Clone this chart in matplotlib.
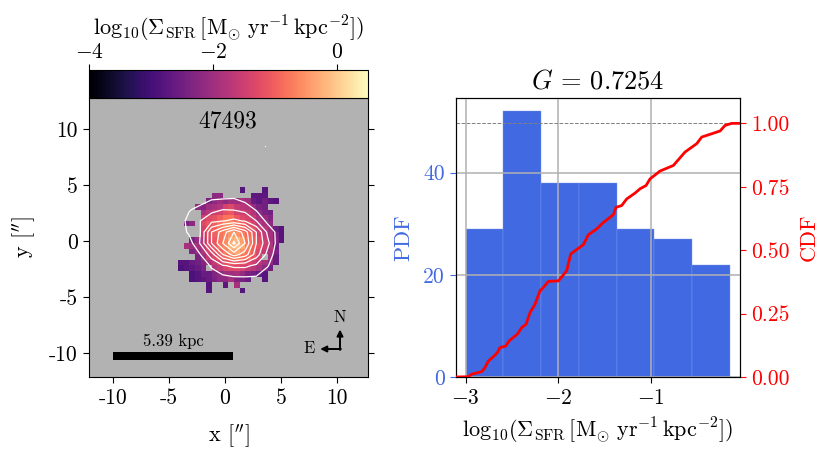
import numpy as np
import matplotlib
matplotlib.use("Agg")
import matplotlib.pyplot as plt

plt.rcParams['font.family'] = ['cmr10', 'DejaVu Sans']
plt.rcParams['mathtext.fontset'] = 'cm'
plt.rcParams['axes.formatter.use_mathtext'] = True
plt.rcParams['axes.unicode_minus'] = False

n = np.nan

# log10(SFR surface density), rows from the top of the map, 0.5 arcsec cells
first_col = 16
first_row = 16
sfr_rows = [
    [n, n, n, n, n, n, n, n, n, n, n, -2.8, n, n, n, -2.8, n, n, n],
    [n, n, n, n, n, n, -2.2, -2.2, n, n, n, n, n, -2.7, -2.7, -2.7, n, n, n],
    [n, n, n, n, n, -2.4, -2.2, -2.0, -2.2, -2.0, -2.0, -1.9, -2.0, -2.6, -2.7, -2.5, -2.7, -2.8, n],
    [n, n, n, -2.2, -2.3, -2.0, -1.9, -1.8, -1.4, -1.3, -1.6, -1.7, -1.8, -2.1, -2.4, -2.5, n, n, n],
    [n, n, n, n, -1.9, -1.7, -1.5, -1.4, -1.2, -1.1, -1.4, -1.5, -1.6, -1.8, -2.2, -2.4, -2.5, n, n],
    [n, n, n, n, -1.5, -1.3, -1.2, -1.0, -0.8, -0.8, -1.1, -1.3, -1.4, -1.6, -1.9, -2.1, -2.3, n, n],
    [n, -2.4, -2.2, n, -1.3, -1.1, -1.0, -0.8, -0.6, -0.6, -0.8, -1.0, -1.2, -1.4, -1.7, -1.9, -2.2, n, n],
    [n, n, n, n, -1.4, -1.1, -1.0, -0.8, -0.7, -0.6, -0.7, -0.9, -1.1, -1.2, -1.5, -1.7, -2.0, -2.6, -2.8],
    [n, n, n, n, -1.6, -1.2, -1.0, -0.8, -0.7, -0.5, -0.5, -0.7, -0.9, -1.1, -1.4, -1.6, -1.9, -2.4, -2.8],
    [n, n, -2.4, -2.1, -1.7, -1.3, -1.1, -0.8, -0.6, -0.3, -0.2, -0.4, -0.8, -1.0, -1.3, -1.5, -1.9, -2.3, -2.8],
    [n, -1.9, -2.0, -1.9, -1.7, -1.3, -1.1, -0.8, -0.6, -0.2, -0.1, -0.3, -0.7, -1.0, -1.2, -1.5, -1.8, -2.5, n],
    [n, n, -2.3, -2.1, -1.8, -1.4, -1.2, -1.0, -0.7, -0.4, -0.3, -0.5, -0.8, -1.0, -1.3, -1.6, -1.9, -2.4, n],
    [n, n, n, -2.4, -2.0, -1.6, -1.3, -1.1, -0.9, -0.8, -0.7, -0.8, -0.9, -1.1, -1.4, n, -2.0, -2.6, n],
    [-2.8, -2.8, -2.6, -2.5, -2.3, -1.9, -1.6, -1.4, -1.2, -1.1, -1.1, -1.2, -1.3, -1.5, -1.7, -1.9, -2.2, -2.6, n],
    [-2.9, -2.8, -2.7, -2.6, -2.4, n, -1.8, -1.6, -1.4, -1.3, -1.3, -1.4, -1.6, -1.7, -1.9, -2.2, -2.5, n, n],
    [n, n, -2.9, -2.8, -2.6, -2.6, -2.3, -2.2, -2.0, -2.0, -1.9, -2.1, -2.4, -2.5, -2.6, -2.8, n, n, n],
    [n, n, -2.9, -2.8, -2.7, -2.6, -2.4, -2.2, -2.2, -1.9, -2.3, -2.4, -2.6, n, n, -2.8, n, n, n],
    [n, n, n, n, n, -2.8, n, n, -2.7, n, -1.9, n, n, n, n, n, n, n, n],
    [n, n, n, n, n, -2.8, n, n, n, n, n, -2.8, n, n, n, n, n, n, n],
]

# coarse 1 arcsec map behind the white contours
contour_x = [-4.2, -3.2, -2.2, -1.2, -0.2, 0.8, 1.8, 2.8, 3.8, 4.7, 5.7]
contour_y = [4.8, 3.8, 2.8, 1.8, 0.8, -0.2, -1.2, -2.2, -3.2, -4.1]
contour_map = [
    [0.0, 0.0, 0.0, 0.0, 0.0, 0.0, 0.0, 0.0, 0.0, 0.0, 0.0],
    [0.0, 0.0, 0.4, 0.9, 0.95, 1.0, 0.6, 0.0, 0.0, 0.0, 0.0],
    [0.1, 0.9, 1.4, 1.7, 2.0, 1.95, 1.7, 0.9, 0.3, 0.0, 0.0],
    [0.3, 1.4, 2.0, 2.7, 2.95, 3.2, 2.9, 2.0, 0.7, 0.2, 0.0],
    [0.3, 1.2, 2.0, 5.0, 6.5, 8.0, 6.5, 4.0, 1.8, 0.7, 0.0],
    [0.0, 0.5, 2.1, 5.0, 7.0, 9.0, 7.0, 4.0, 2.3, 0.6, 0.0],
    [0.0, 0.0, 1.0, 2.5, 5.0, 6.5, 5.5, 3.5, 1.7, 0.4, 0.0],
    [0.0, 0.0, 0.0, 1.2, 1.9, 2.2, 2.2, 1.8, 1.1, 0.1, 0.0],
    [0.0, 0.0, 0.0, 0.3, 0.8, 0.98, 1.0, 0.95, 0.3, 0.0, 0.0],
    [0.0, 0.0, 0.0, 0.0, 0.0, 0.0, 0.0, 0.0, 0.0, 0.0, 0.0],
]
contour_levels = [1, 2, 3, 4, 5, 6, 7, 8, 8.8]

# histogram of the map pixels
bin_edges = [-3.0, -2.593, -2.186, -1.779, -1.372, -0.965, -0.558, -0.151]
pdf_counts = [29, 52, 38, 38, 29, 27, 22]

# cumulative curve
cdf_x = [-3.108, -2.972, -2.936, -2.828, -2.792, -2.756, -2.702, -2.659, -2.630, -2.569,
         -2.533, -2.443, -2.396, -2.349, -2.306, -2.252, -2.198, -2.155, -2.108, -2.000,
         -1.910, -1.867, -1.730, -1.676, -1.586, -1.525, -1.407, -1.378, -1.317, -1.263,
         -1.173, -1.119, -1.054, -1.011, -0.903, -0.759, -0.633, -0.507, -0.453, -0.255,
         -0.201, -0.129, -0.047]
cdf_y = [0.0, 0.001, 0.011, 0.021, 0.037, 0.063, 0.080, 0.096, 0.116, 0.122,
         0.142, 0.169, 0.195, 0.208, 0.254, 0.287, 0.340, 0.356, 0.377, 0.379,
         0.419, 0.485, 0.522, 0.561, 0.584, 0.606, 0.640, 0.669, 0.676, 0.702,
         0.725, 0.742, 0.755, 0.781, 0.812, 0.834, 0.887, 0.920, 0.946, 0.970,
         0.992, 1.0, 1.0]

sfr_label = r'$\log_{10}\!(\Sigma_{\rm SFR}\,[{\rm M}_{\!\odot}\,{\rm yr}^{-1}\,{\rm kpc}^{-2}])$'

fig = plt.figure(figsize=(8.31, 4.59), dpi=100)
W, H = 831.0, 459.0

ax1 = fig.add_axes([89 / W, (H - 377) / H, 279 / W, 279 / H])
cax = fig.add_axes([89 / W, (H - 98) / H, 279 / W, 28 / H])
ax2 = fig.add_axes([456 / W, (H - 377) / H, 284 / W, 279 / H])

############ MAP ############
sfr_map = np.full((50, 50), np.nan)
block = np.array(sfr_rows)
sfr_map[first_row:first_row + block.shape[0], first_col:first_col + block.shape[1]] = block

cmap = plt.get_cmap('magma').copy()
cmap.set_bad('#b2b2b2')
extent = [-12.14, 12.77, -12.14, 12.77]
ax1.set_facecolor('#b2b2b2')
im = ax1.imshow(sfr_map, cmap=cmap, vmin=-4, vmax=0.5, origin='upper', extent=extent,
                interpolation='nearest', aspect='auto')

ax1.contour(contour_x, contour_y, np.array(contour_map), levels=contour_levels, colors='white',
            linewidths=0.9, linestyles='solid')

ax1.set_xlim(extent[0], extent[1])
ax1.set_ylim(extent[2], extent[3])
ax1.set_xticks([-10, -5, 0, 5, 10])
ax1.set_xticklabels(['-10', '-5', '0', '5', '10'])
ax1.set_yticks([-10, -5, 0, 5, 10])
ax1.set_yticklabels(['-10', '-5', '0', '5', '10'])
ax1.tick_params(axis='both', labelsize=15.5, right=True, direction='out', length=4.5)
ax1.set_xlabel('x [$^{\\prime\\prime}$]', fontsize=16, labelpad=11)
ax1.set_ylabel('y [$^{\\prime\\prime}$]', fontsize=16, labelpad=8)

ax1.text(0.25, 10.7, '47493', fontsize=17, ha='center', va='center')
ax1.plot([3.6], [8.5], marker='s', ms=0.7, color='white', mew=0)

# scale bar
ax1.fill_between([-10, 0.7], -10.63, -9.92, color='black', lw=0)
ax1.text(-4.65, -8.95, '5.39 kpc', fontsize=12, ha='center', va='center')

# compass
ax1.annotate('', xy=(10.27, -7.9), xytext=(10.27, -9.72),
             arrowprops=dict(arrowstyle='-|>', color='black', lw=1.4, shrinkA=0, shrinkB=0, mutation_scale=9))
ax1.annotate('', xy=(8.5, -9.64), xytext=(10.35, -9.64),
             arrowprops=dict(arrowstyle='-|>', color='black', lw=1.4, shrinkA=0, shrinkB=0, mutation_scale=9))
ax1.text(10.27, -6.85, 'N', fontsize=12, ha='center', va='center')
ax1.text(7.5, -9.6, 'E', fontsize=12, ha='center', va='center')

############ COLORBAR ############
cb = fig.colorbar(im, cax=cax, orientation='horizontal', ticklocation='top')
cb.set_ticks([-4, -2, 0])
cb.set_ticklabels([r'$-4$', r'$-2$', r'$0$'])
cax.tick_params(labelsize=15.5, length=4.5, pad=1.5)
cb.set_label(sfr_label, fontsize=16, labelpad=5)

############ HISTOGRAM + CDF ############
ax2.hist(bin_edges[:-1], bins=bin_edges, weights=pdf_counts, color='royalblue',
         edgecolor='#7f9bec', linewidth=0.3, zorder=1)
ax2.grid(True, color='#b0b0b0', linewidth=1.1, zorder=2)
ax2.set_axisbelow(False)
ax2.set_xlim(-3.105, -0.04)
ax2.set_ylim(0, 54.6)
ax2.set_xticks([-3, -2, -1])
ax2.set_xticklabels([r'$-3$', r'$-2$', r'$-1$'])
ax2.set_yticks([0, 20, 40])
ax2.set_yticklabels(['0', '20', '40'])
ax2.tick_params(axis='x', labelsize=15.5, length=4.5)
ax2.tick_params(axis='y', labelsize=15.5, length=4.5, colors='royalblue')
ax2.set_xlabel(sfr_label, fontsize=16, labelpad=6)
ax2.set_ylabel('PDF', fontsize=16, color='royalblue', labelpad=7)
ax2.set_title(r'$G$ = 0.7254', fontsize=19, pad=7)

ax3 = ax2.twinx()
ax3.plot(cdf_x, cdf_y, color='red', linewidth=2, zorder=3)
ax3.axhline(1.0, color='gray', linewidth=0.7, linestyle='--')
ax3.set_ylim(0, 1.1)
ax3.set_yticks([0, 0.25, 0.5, 0.75, 1.0])
ax3.set_yticklabels(['0.00', '0.25', '0.50', '0.75', '1.00'])
ax3.tick_params(axis='y', labelsize=15.5, length=4.5, colors='red')
ax3.set_ylabel('CDF', fontsize=16, color='red', labelpad=7)

fig.savefig('out.png', dpi=100)
